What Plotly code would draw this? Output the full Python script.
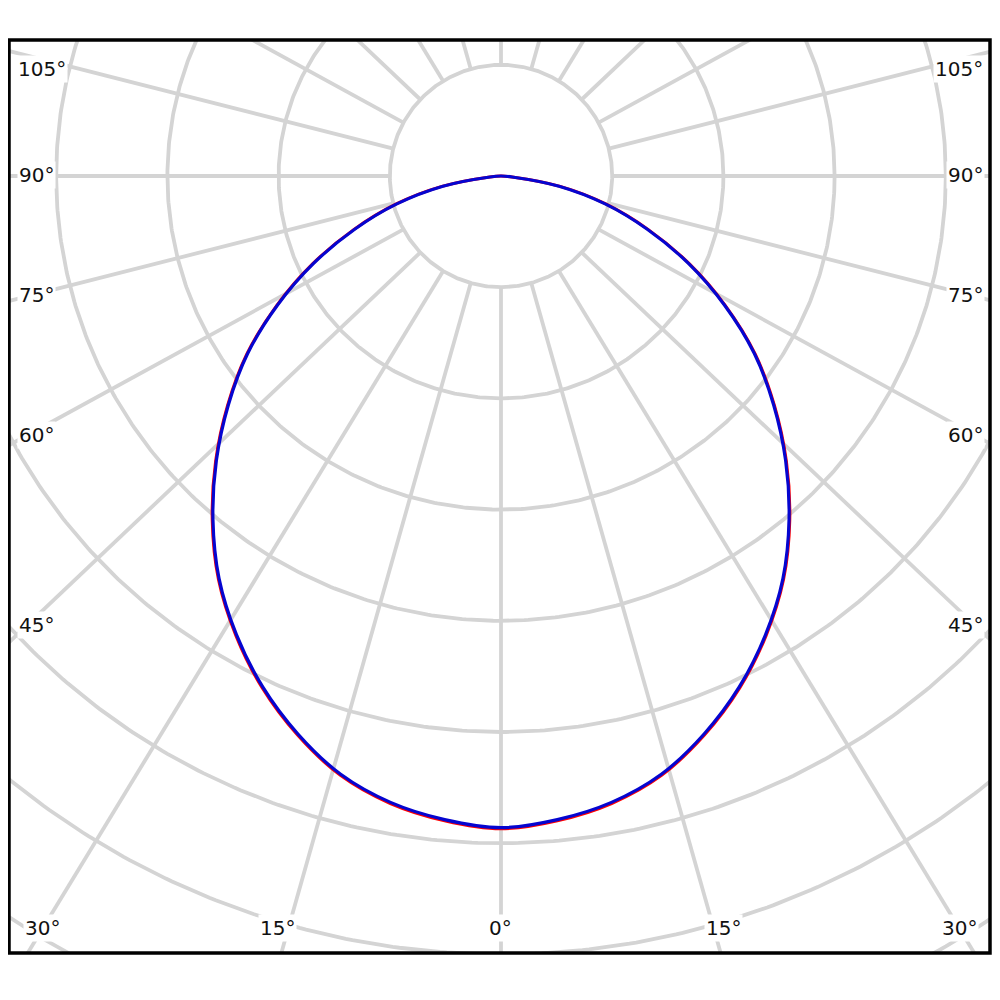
import numpy as np
import plotly.graph_objects as go

# ---------------- data ----------------
gamma_deg = [0, 5, 10, 15, 20, 25, 30, 35, 40, 45, 50, 55, 60, 65, 70, 75, 80, 85, 90]
# intensity in grid-ring units (one ring = one unit)
intensity_c90 = [5.86, 5.81, 5.72, 5.57, 5.34, 5.07, 4.76, 4.42, 4.03, 3.62,
                 3.20, 2.78, 2.32, 1.86, 1.40, 0.97, 0.53, 0.10, 0.00]
intensity_c0 = [5.87, 5.82, 5.73, 5.58, 5.35, 5.08, 4.77, 4.43, 4.04, 3.63,
                3.21, 2.79, 2.33, 1.87, 1.41, 0.98, 0.54, 0.10, 0.00]

ring_values = [1, 2, 3, 4, 5, 6, 7, 8, 9]
spoke_angles = list(range(0, 360, 15))
spoke_stretch = 1.055   # horizontal stretch of the spoke directions in the source drawing

# angle labels: text and position in page pixels
label_text = ["105°", "90°", "75°", "60°", "45°",
              "105°", "90°", "75°", "60°", "45°",
              "30°", "15°", "0°", "15°", "30°"]
label_px = [(42, 69), (36, 175), (36, 295), (36, 435), (36, 625),
            (959, 69), (965, 175), (965, 295), (965, 435), (965, 625),
            (42, 928), (277, 928), (500, 928), (723, 928), (959, 928)]

# ---------------- layout geometry ----------------
BODY = 8             # default page margin of the html body
S = 111.2            # pixels per ring unit
CX, CY = 501, 176    # pole position on the page
L, R, T, B = 9, 990, 40, 953   # frame edges on the page
W, H = 984, 984

def px_to_data(px, py):
    return (px - CX) / S, (CY - py) / S

fig = go.Figure()

# rings
theta = np.linspace(0, 2 * np.pi, 721)
rx, ry = [], []
for k in ring_values:
    rx += list(k * np.cos(theta)) + [None]
    ry += list(k * np.sin(theta)) + [None]
fig.add_trace(go.Scatter(x=rx, y=ry, mode="lines",
                         line=dict(color="#d4d4d4", width=3.8),
                         hoverinfo="skip", showlegend=False))

# spokes (start at the inner ring)
sx, sy = [], []
for a in spoke_angles:
    g = np.radians(a)
    ux, uy = spoke_stretch * np.sin(g), -np.cos(g)
    n = np.hypot(ux, uy)
    ux, uy = ux / n, uy / n
    sx += [ring_values[0] * ux, 12 * ux, None]
    sy += [ring_values[0] * uy, 12 * uy, None]
fig.add_trace(go.Scatter(x=sx, y=sy, mode="lines",
                         line=dict(color="#d4d4d4", width=3.8),
                         hoverinfo="skip", showlegend=False))

def curve(values):
    g = np.radians(np.array(gamma_deg, dtype=float))
    v = np.array(values, dtype=float)
    gg = np.concatenate([-g[::-1], g[1:]])
    vv = np.concatenate([v[::-1], v[1:]])
    return vv * np.sin(gg), -vv * np.cos(gg)

x0, y0 = curve(intensity_c0)
fig.add_trace(go.Scatter(x=x0, y=y0, mode="lines",
                         line=dict(color="#ff0000", width=3, shape="spline", smoothing=1),
                         name="C0-C180", showlegend=False))
x9, y9 = curve(intensity_c90)
fig.add_trace(go.Scatter(x=x9, y=y9, mode="lines",
                         line=dict(color="#0505d0", width=3.2, shape="spline", smoothing=1),
                         name="C90-C270", showlegend=False))

for txt, (px, py) in zip(label_text, label_px):
    ax, ay = px_to_data(px, py)
    fig.add_annotation(x=ax, y=ay, text=txt, showarrow=False,
                       font=dict(family="DejaVu Sans", size=20, color="#111111"),
                       bgcolor="white", borderpad=1, xanchor="center", yanchor="middle")

fig.add_shape(type="rect", xref="paper", yref="paper", x0=0, x1=1, y0=0, y1=1,
              line=dict(color="black", width=3.5), layer="above")

fig.update_xaxes(range=[(L - CX) / S, (R - CX) / S], visible=False, showgrid=False, zeroline=False)
fig.update_yaxes(range=[(CY - B) / S, (CY - T) / S], visible=False, showgrid=False, zeroline=False)
fig.update_layout(width=W, height=H,
                  margin=dict(l=L - BODY, r=W - (R - BODY), t=T - BODY, b=H - (B - BODY), pad=0),
                  paper_bgcolor="white", plot_bgcolor="white", showlegend=False)

fig.write_html("out.html")
